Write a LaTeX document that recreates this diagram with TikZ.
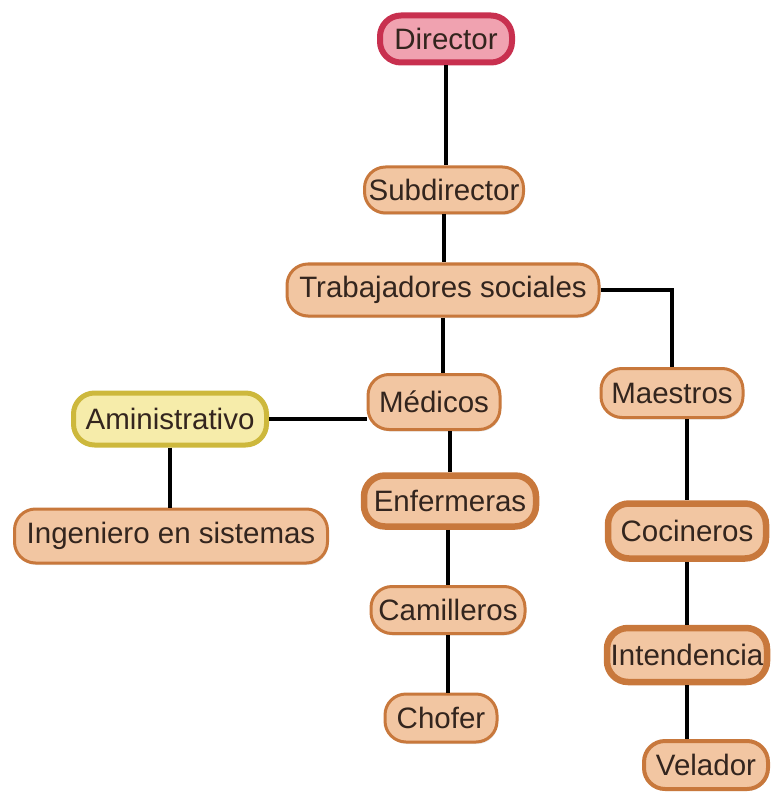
\documentclass[tikz,border=0pt]{standalone}
\usepackage{fontspec}
\setmainfont{Liberation Sans}
\usetikzlibrary{shadows}
\definecolor{boxfill}{HTML}{F2C6A2}
\definecolor{boxline}{HTML}{C8783C}
\definecolor{dirfill}{HTML}{F0A2B0}
\definecolor{dirline}{HTML}{C8304F}
\definecolor{admfill}{HTML}{F6ECAA}
\definecolor{admline}{HTML}{CDB83C}
\definecolor{txt}{HTML}{33251E}
\begin{document}
\begin{tikzpicture}[x=1pt,y=-1pt,
  box/.style={draw=boxline, fill=boxfill, rounded corners=21pt, line width=3pt,
    text=txt, font=\fontsize{29.5}{34}\selectfont, inner sep=0pt,
    drop shadow={opacity=0.18, shadow xshift=1pt, shadow yshift=-2pt}},
  thickbox/.style={line width=6.5pt},
  redbox/.style={draw=dirline, fill=dirfill, line width=6pt},
  yellowbox/.style={draw=admline, fill=admfill, line width=5pt},
  link/.style={line width=4.5pt, black}]
\useasboundingbox (0,0) rectangle (775,799);
\node[box, redbox, minimum width=132pt, minimum height=47pt] (dir) at (446,39) {Director};
\node[box, minimum width=159pt, minimum height=46pt] (sub) at (444,190) {Subdirector};
\node[box, minimum width=312pt, minimum height=52pt] (tra) at (443,290) {Trabajadores sociales};
\node[box, minimum width=132pt, minimum height=55pt] (med) at (434,402) {Médicos};
\node[box, minimum width=142pt, minimum height=49pt] (mae) at (672,393) {Maestros};
\node[box, yellowbox, minimum width=193pt, minimum height=52pt] (adm) at (170,419) {Aministrativo};
\node[box, minimum width=313pt, minimum height=54pt] (ing) at (171,536) {Ingeniero en sistemas};
\node[box, thickbox, minimum width=172pt, minimum height=51pt] (enf) at (450,501) {Enfermeras};
\node[box, minimum width=154pt, minimum height=47pt] (cam) at (448,610) {Camilleros};
\node[box, minimum width=112pt, minimum height=48pt] (cho) at (441,718) {Chofer};
\node[box, thickbox, minimum width=158pt, minimum height=55pt] (coc) at (687,531) {Cocineros};
\node[box, thickbox, minimum width=160pt, minimum height=54pt] (int) at (687,655) {Intendencia};
\node[box, line width=4pt, minimum width=124pt, minimum height=48pt] (vel) at (706,765) {Velador};
\draw[link] (dir.south) -- (dir.south |- sub.north);
\draw[link] (sub.south) -- (sub.south |- tra.north);
\draw[link] (tra.south) -- (tra.south |- med.north);
\draw[link] (tra.east) -| (mae.north);
\draw[link] (adm.east) -- (adm.east -| med.west);
\draw[link] (adm.south) -- (adm.south |- ing.north);
\draw[link] (enf.north |- med.south) -- (enf.north);
\draw[link] (cam.north |- enf.south) -- (cam.north);
\draw[link] (cam.south) -- (cam.south |- cho.north);
\draw[link] (coc.north |- mae.south) -- (coc.north);
\draw[link] (coc.south) -- (coc.south |- int.north);
\draw[link] (int.south) -- (int.south |- vel.north);
\end{tikzpicture}
\end{document}
